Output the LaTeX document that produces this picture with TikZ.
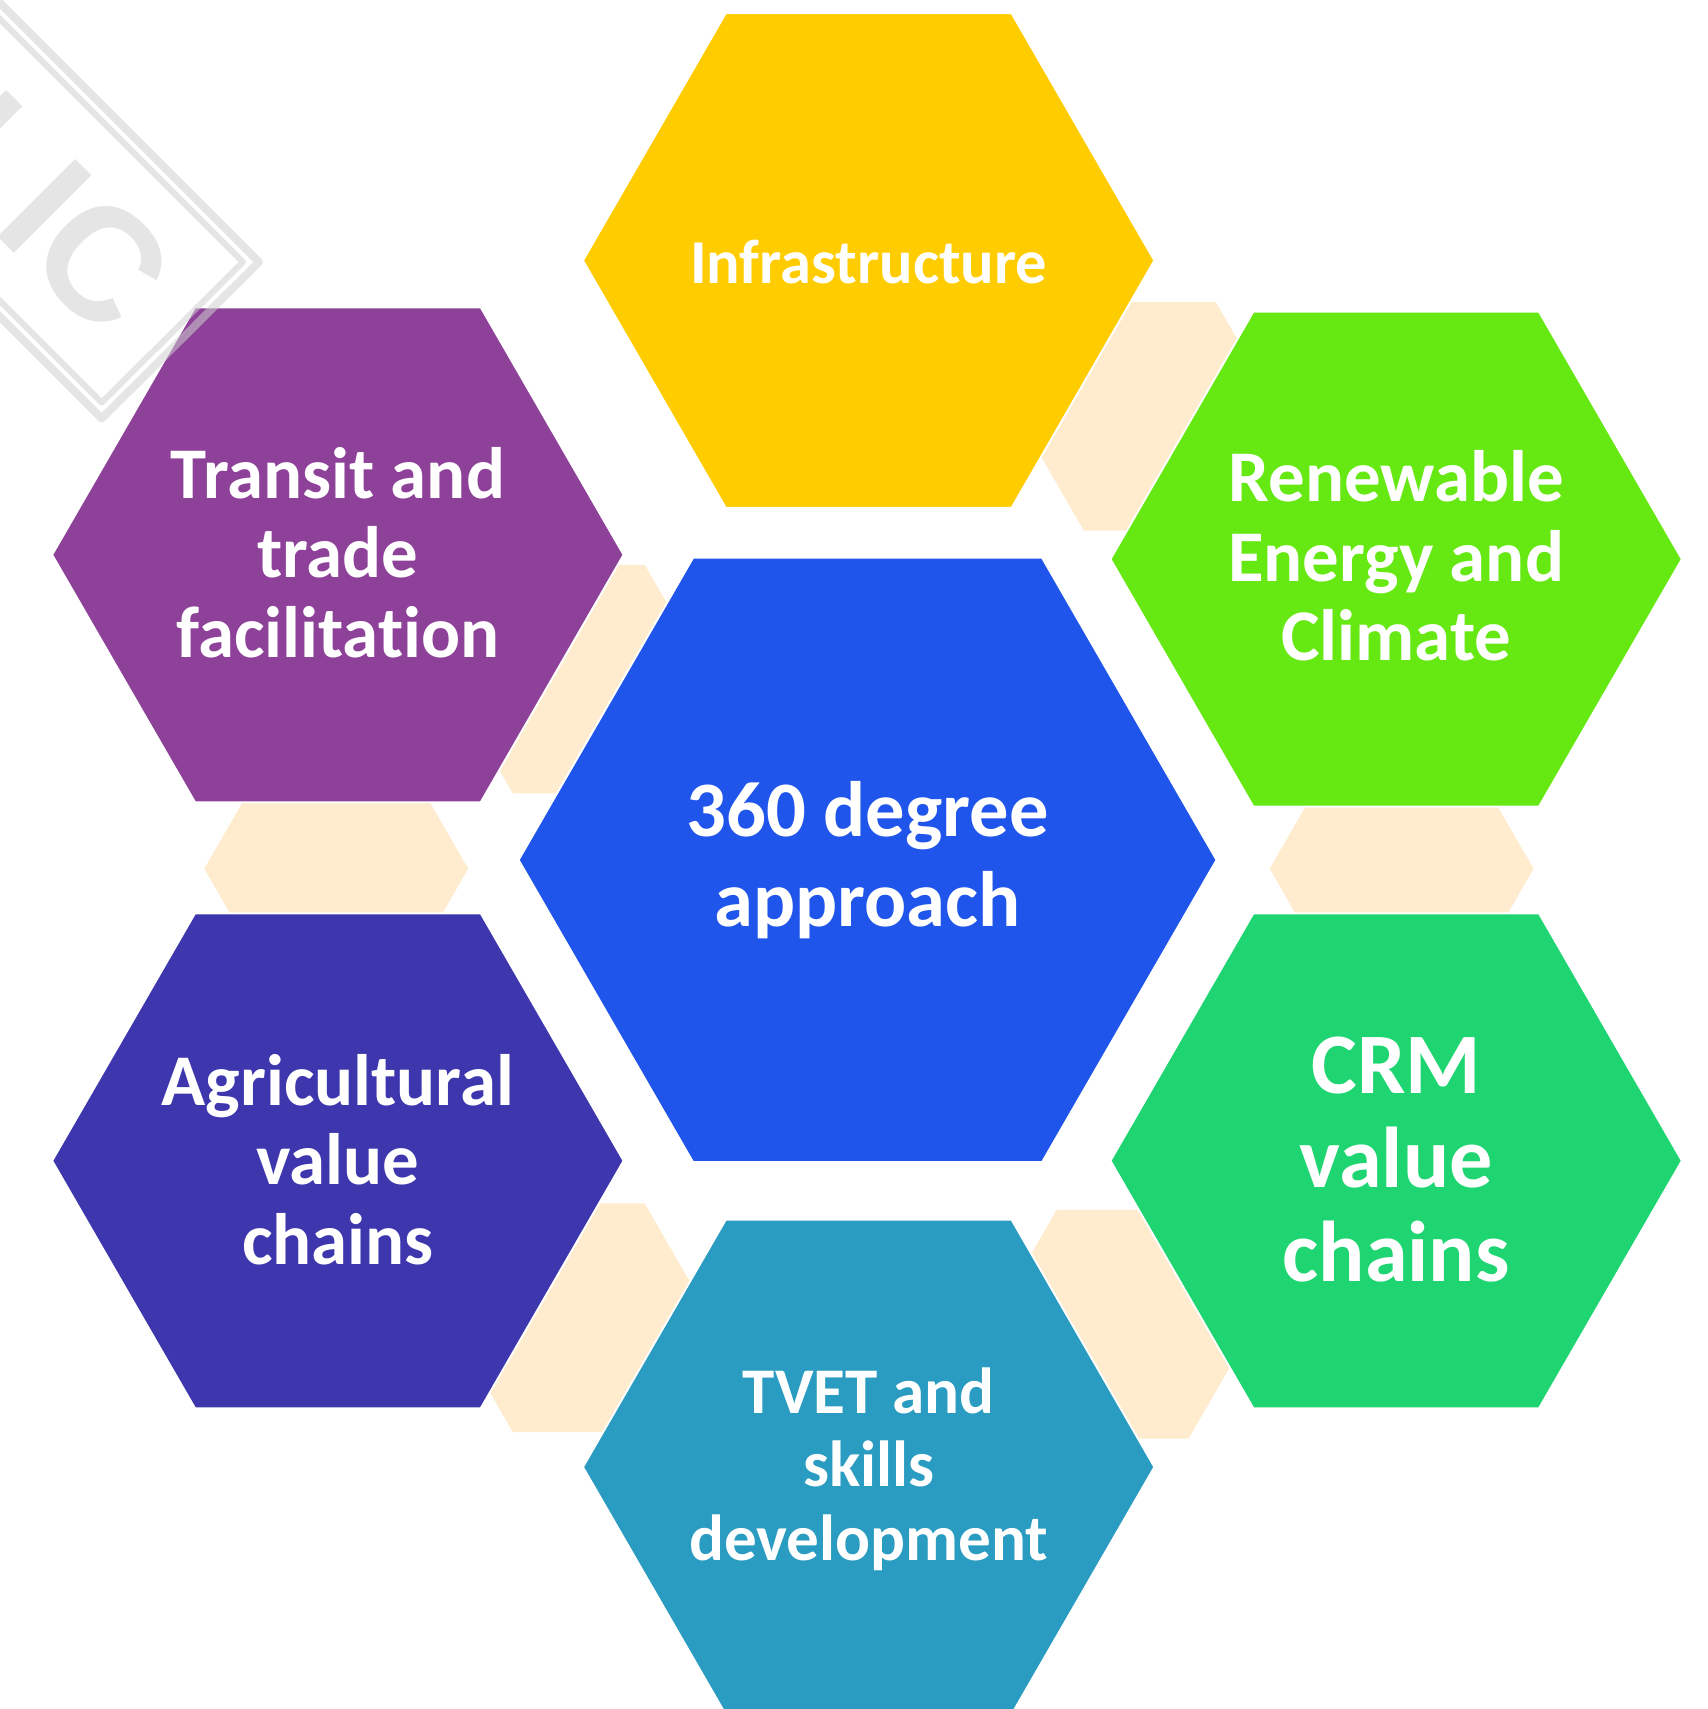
\documentclass[tikz,border=0pt]{standalone}
\usepackage{fontspec}
\setmainfont{Carlito}[Ligatures={NoCommon,NoRequired,NoContextual}]
\newfontfamily\wmfont{Liberation Sans}
\usetikzlibrary{shapes.geometric}
\definecolor{cinfra}{HTML}{FFCC00}
\definecolor{ctransit}{HTML}{8E4199}
\definecolor{crenew}{HTML}{66E812}
\definecolor{ccenter}{HTML}{1F55EA}
\definecolor{cagri}{HTML}{3D36AD}
\definecolor{ccrm}{HTML}{1ED571}
\definecolor{ctvet}{HTML}{2A9BC1}
\definecolor{palec}{HTML}{FFECCE}
\definecolor{wmgray}{RGB}{208,208,208}
\begin{document}
\begin{tikzpicture}[x=0.01cm,y=-0.01cm,
  hexa/.style={regular polygon, regular polygon sides=6, inner sep=0pt, outer sep=0pt,
    minimum size=5.24cm, draw=white, line width=0.5pt},
  big/.style={minimum size=6.40cm},
  pale/.style={regular polygon, regular polygon sides=6, inner sep=0pt, outer sep=0pt,
    minimum size=2.42cm, fill=palec, draw=none},
  lbl/.style={text=white, align=center, inner sep=0pt, outer sep=0pt},
  tA/.style={font=\fontsize{16.3}{19}\selectfont\bfseries},
  tB/.style={font=\fontsize{17}{19.1}\selectfont\bfseries},
  tC/.style={font=\fontsize{19}{20.8}\selectfont\bfseries},
  tD/.style={font=\fontsize{20.5}{23.6}\selectfont\bfseries},
  tE/.style={font=\fontsize{22.5}{24.5}\selectfont\bfseries},
  wm/.style={draw=wmgray, draw opacity=0.54, line join=round},
  wmtext/.style={text=wmgray, text opacity=0.54, inner sep=0pt, outer sep=0pt,
    anchor=base east, rotate=-45, font=\wmfont\bfseries\fontsize{41.6}{41.6}\selectfont}]
\useasboundingbox (0,0) rectangle (1567,1568);
\clip (0,0) rectangle (1567,1568);
\fill[white] (0,0) rectangle (1567,1568);
% pale background hexagons
\node[pale] (p1) at (1055,382) {};
\node[pale] (p2) at (531,623) {};
\node[pale] (p3) at (308.5,797) {};
\node[pale] (p4) at (1286,797) {};
\node[pale] (p5) at (531,1209) {};
\node[pale] (p6) at (1030,1215) {};
% coloured hexagons
\node[hexa, fill=cinfra] (infra) at (797,239) {};
\node[hexa, fill=ctransit] (transit) at (310,509) {};
\node[hexa, fill=crenew] (renew) at (1281,513) {};
\node[hexa, big, fill=ccenter] (center) at (796,789) {};
\node[hexa, fill=cagri] (agri) at (310,1065) {};
\node[hexa, fill=ccrm] (crm) at (1281,1065) {};
\node[hexa, fill=ctvet] (tvet) at (797,1346) {};
% labels
\node[lbl, tA] (infra-t) at (797,240) {Infrastructure};
\node[lbl, tC] (transit-t) at (310,507) {Transit and\\trade\\facilitation};
\node[lbl, tC] (renew-t) at (1281,510) {Renewable\\Energy and\\Climate};
\node[lbl, tD] (center-t) at (796,789) {360 degree\\approach};
\node[lbl, tC] (agri-t) at (310,1064) {Agricultural\\value\\chains};
\node[lbl, tE] (crm-t) at (1281,1064) {CRM\\value\\chains};
\node[lbl, tB] (tvet-t) at (797,1348) {TVET and\\skills\\development};
% watermark stamp
\draw[wm, line width=0.073cm] (237.6,240.4) -- (93.3,384) -- (-306.7,-16) -- (-162.4,-159.6) -- cycle;
\draw[wm, line width=0.055cm] (222.9,240.4) -- (93.3,369.3) -- (-306.7,-30.7) -- (-177.1,-159.6) -- cycle;
\node[wmtext] (stamp) at (95,313.7) {PUBLIC};
\end{tikzpicture}
\end{document}
